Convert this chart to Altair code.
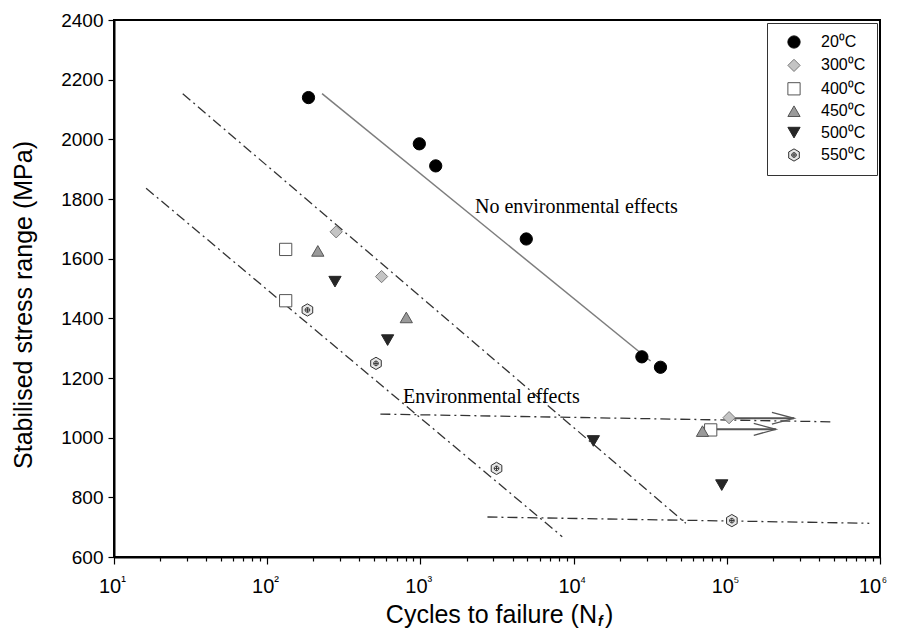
import altair as alt
import pandas as pd

# ---------------- data ----------------
temps = ["20⁰C", "300⁰C", "400⁰C", "450⁰C", "500⁰C", "550⁰C"]

n_20 = [186, 984, 1259, 4910, 27900, 36900]
s_20 = [2140, 1985, 1911, 1666, 1271, 1236]
n_300 = [282, 558, 103500]
s_300 = [1690, 1540, 1067]
n_400 = [132, 132, 78500]
s_400 = [1631, 1459, 1026]
n_450 = [214, 809, 69400]
s_450 = [1626, 1403, 1022]
n_500 = [277, 611, 13460, 92700]
s_500 = [1523, 1327, 989, 841]
n_550 = [183, 513, 3140, 107900]
s_550 = [1428, 1249, 897, 722]

# reference lines (end points)
line_ids = ["noenv", "envA", "envB", "horizU", "horizL"]
line_n = [[228, 31800], [28.1, 54000], [16.2, 8430], [548, 500000], [2740, 851000]]
line_s = [[2153, 1257], [2153, 713], [1836, 668], [1079, 1053], [734, 713]]

# run-out arrows (shaft start, tip, barb x, y, barb half spread)
arrow_start_n = [103500, 78500]
arrow_tip_n = [275000, 209000]
arrow_barb_n = [197000, 150000]
arrow_s = [1065, 1028]
arrow_spread = [20, 20]

# annotations
ann_text = ["No environmental effects", "Environmental effects"]
ann_n = [2270, 769]
ann_s = [1753, 1116]

# tick labels
x_major = [10, 100, 1000, 10000, 100000, 1000000]
x_sup = ["¹", "²", "³", "⁴", "⁵", "⁶"]
y_ticks = [600, 800, 1000, 1200, 1400, 1600, 1800, 2000, 2200, 2400]

# ---------------- styles ----------------
hexagon = ("M0,-1L0.866,-0.5L0.866,0.5L0,1L-0.866,0.5L-0.866,-0.5Z"
           "M0.38,0A0.38,0.38,0,1,1,-0.38,0A0.38,0.38,0,1,1,0.38,0Z"
           "M-0.38,0L0.38,0M0,-0.38L0,0.38")
shapes = ["circle", "diamond", "square", "triangle-up", "triangle-down", hexagon]
fills = ["#000000", "#c4c4c4", "#ffffff", "#9a9a9a", "#262626", "#e6e6e6"]
strokes = ["#000000", "#7a7a7a", "#555555", "#555555", "#262626", "#333333"]

# ---------------- tables ----------------
rows = []
for t, ns, ss in zip(temps, [n_20, n_300, n_400, n_450, n_500, n_550],
                     [s_20, s_300, s_400, s_450, s_500, s_550]):
    for n, s in zip(ns, ss):
        rows.append({"temp": t, "N": n, "S": s})
pts = pd.DataFrame(rows)

lrows = []
for lid, ns, ss in zip(line_ids, line_n, line_s):
    for i, (n, s) in enumerate(zip(ns, ss)):
        lrows.append({"id": lid, "N": n, "S": s, "o": i})
lines = pd.DataFrame(lrows)

shafts = pd.DataFrame({"N": arrow_start_n, "N2": arrow_tip_n, "S": arrow_s})
hrows = []
for k, (tip, barb, s, d) in enumerate(zip(arrow_tip_n, arrow_barb_n, arrow_s, arrow_spread)):
    hrows += [{"id": k, "N": barb, "S": s + d, "o": 0},
              {"id": k, "N": tip, "S": s, "o": 1},
              {"id": k, "N": barb, "S": s - d, "o": 2}]
heads = pd.DataFrame(hrows)

ann = pd.DataFrame({"t": ann_text, "N": ann_n, "S": ann_s})
xlab = pd.DataFrame({"N": x_major[:-1], "sup": x_sup[:-1]})
xlab_last = pd.DataFrame({"N": x_major[-1:], "sup": x_sup[-1:]})

minor = []
for d in [10, 100, 1000, 10000, 100000]:
    minor += [k * d for k in range(1, 10)]
minor.append(1000000)

XS = alt.Scale(type="log", domain=[10, 1000000], nice=False)
YS = alt.Scale(domain=[600, 2400], nice=False, zero=False)

is_major = "abs(log(datum.value)/LN10 - round(log(datum.value)/LN10)) < 0.001"

x_axis = alt.Axis(values=minor, labels=False, title=None, grid=False,
                  tickSize={"condition": {"test": is_major, "value": 7}, "value": 4},
                  tickColor="black", tickWidth=1.2, domainColor="black", domainWidth=2)
y_axis = alt.Axis(values=y_ticks, title=None, grid=False, labelFontSize=19, format="d",
                  labelFont="Liberation Sans", labelColor="black", tickSize=6,
                  tickColor="black", tickWidth=1.2, labelPadding=5,
                  domainColor="black", domainWidth=2)

xn = alt.X("N:Q", scale=XS, axis=x_axis)
ys = alt.Y("S:Q", scale=YS, axis=y_axis)

solid = alt.Chart(lines[lines.id == "noenv"]).mark_line(
    color="#7d7d7d", strokeWidth=1.5).encode(x=xn, y=ys, detail="id:N", order="o:Q")
dashed = alt.Chart(lines[lines.id != "noenv"]).mark_line(
    color="#333333", strokeWidth=1.3, strokeDash=[10, 4, 2, 4]).encode(
    x=xn, y=ys, detail="id:N", order="o:Q")

shaft = alt.Chart(shafts).mark_rule(color="#555555", strokeWidth=2).encode(
    x=xn, x2="N2:Q", y=ys)
head = alt.Chart(heads).mark_line(color="#555555", strokeWidth=1.3).encode(
    x=xn, y=ys, detail="id:N", order="o:Q")

points = alt.Chart(pts).mark_point(filled=True, size=150, strokeWidth=1, opacity=1).encode(
    x=xn, y=ys,
    shape=alt.Shape("temp:N", scale=alt.Scale(domain=temps, range=shapes),
                    legend=alt.Legend(title=None)),
    fill=alt.Fill("temp:N", scale=alt.Scale(domain=temps, range=fills),
                  legend=alt.Legend(title=None)),
    stroke=alt.Stroke("temp:N", scale=alt.Scale(domain=temps, range=strokes),
                      legend=alt.Legend(title=None)),
)

annot = alt.Chart(ann).mark_text(font="Liberation Serif", fontSize=20, align="left",
                                 baseline="alphabetic", color="black").encode(
    x=xn, y=ys, text="t:N")

xl_main = alt.Chart(xlab).mark_text(font="Liberation Sans", fontSize=20, align="center",
                                    baseline="alphabetic", color="black", dx=-4).encode(
    x=xn, y=alt.value(573), text=alt.value("10"))
xl_sup = alt.Chart(xlab).mark_text(font="Liberation Sans", fontSize=14, align="center",
                                   baseline="alphabetic", color="black", dx=9.5).encode(
    x=xn, y=alt.value(566), text="sup:N")
xl_main_last = alt.Chart(xlab_last).mark_text(font="Liberation Sans", fontSize=20,
                                              align="center", baseline="alphabetic",
                                              color="black", dx=-10).encode(
    x=xn, y=alt.value(573), text=alt.value("10"))
xl_sup_last = alt.Chart(xlab_last).mark_text(font="Liberation Sans", fontSize=13,
                                             align="center", baseline="alphabetic",
                                             color="black", dx=4.5).encode(
    x=xn, y=alt.value(566), text="sup:N")

one = pd.DataFrame({"a": [0]})
xt_main = alt.Chart(one).mark_text(font="Liberation Sans", fontSize=25, align="right",
                                   baseline="alphabetic", color="black").encode(
    x=alt.value(483), y=alt.value(603), text=alt.value("Cycles to failure (N"))
xt_sub = alt.Chart(one).mark_text(font="Liberation Sans", fontSize=14, fontWeight="bold",
                                  fontStyle="italic", align="left", baseline="alphabetic",
                                  color="black").encode(
    x=alt.value(484), y=alt.value(606), text=alt.value("f"))
xt_close = alt.Chart(one).mark_text(font="Liberation Sans", fontSize=25, align="left",
                                    baseline="alphabetic", color="black").encode(
    x=alt.value(491), y=alt.value(603), text=alt.value(")"))
yt = alt.Chart(one).mark_text(font="Liberation Sans", fontSize=25, align="center",
                              baseline="middle", angle=270, color="black").encode(
    x=alt.value(-90), y=alt.value(285), text=alt.value("Stabilised stress range (MPa)"))

chart = alt.layer(
    solid, dashed, shaft, head, annot, points, xl_main, xl_sup,
    xl_main_last, xl_sup_last, xt_main, xt_sub, xt_close, yt
).properties(
    width=766, height=537,
    padding={"left": 106, "top": 12, "right": 9, "bottom": 72},
    autosize=alt.AutoSizeParams(type="none"),
    background="white",
).configure_view(
    stroke="black", strokeWidth=2
).configure_legend(
    orient="none", legendX=653, legendY=3, padding=11, symbolOffset=8,
    labelOffset=19, rowPadding=5.4, labelFontSize=16, labelFont="Liberation Sans",
    labelColor="black", strokeColor="#333333", fillColor="white",
    symbolSize=150, symbolStrokeWidth=1, cornerRadius=0
)

chart.save("out.html", embed_options={"renderer": "svg", "actions": False})
